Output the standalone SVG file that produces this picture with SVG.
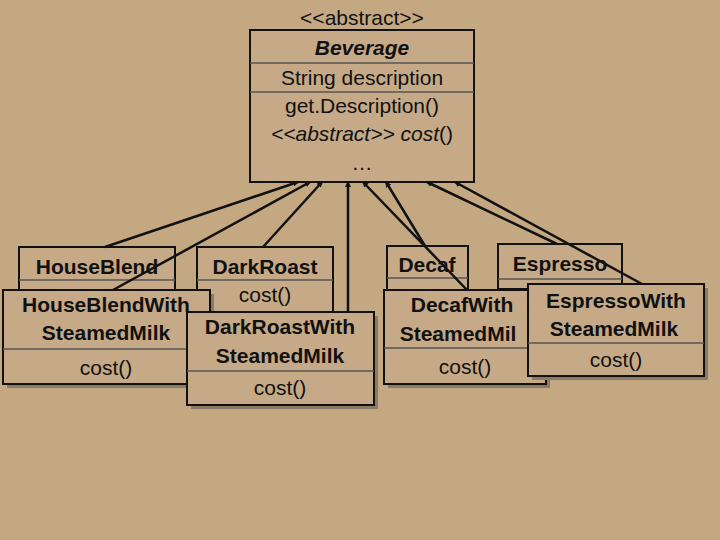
<svg xmlns="http://www.w3.org/2000/svg" width="720" height="540" viewBox="0 0 720 540">
<style>
.b{fill:#c6aa87;stroke:#111;stroke-width:2}
.s{fill:#8a7a66}
.sep{stroke:#555;stroke-width:1.5}
text{font-family:"Liberation Sans",Arial,sans-serif;font-size:21px;fill:#111;text-anchor:middle}
.bd{font-weight:bold}
.c{stroke:#111;stroke-width:2.5;fill:none;marker-end:url(#a)}
</style>
<defs><marker id="a" markerWidth="6" markerHeight="6" refX="5" refY="3" orient="auto" markerUnits="userSpaceOnUse"><path d="M0,0 L6,3 L0,6 Z" fill="#111"/></marker></defs>
<rect width="720" height="540" fill="#c4a882"/>
<g id="beverage">
<text x="362" y="25">&lt;&lt;abstract&gt;&gt;</text>
<rect class="b" x="250" y="30" width="224" height="152"/>
<line class="sep" x1="250" y1="63" x2="474" y2="63"/>
<line class="sep" x1="250" y1="92" x2="474" y2="92"/>
<text x="362" y="55" class="bd" font-style="italic">Beverage</text>
<text x="362" y="85">String description</text>
<text x="362" y="113">get.Description()</text>
<text x="362" y="141"><tspan font-style="italic">&lt;&lt;abstract&gt;&gt; cost</tspan>()</text>
<text x="362" y="170">…</text>
</g>
<g id="houseblend">
<rect class="b" x="19" y="247" width="156" height="50"/>
<line class="sep" x1="19" y1="280" x2="175" y2="280"/>
<text x="97" y="274" class="bd">HouseBlend</text>
</g>
<g id="darkroast">
<rect class="b" x="197" y="247" width="136" height="70"/>
<line class="sep" x1="197" y1="280" x2="333" y2="280"/>
<text x="265" y="274" class="bd">DarkRoast</text>
<text x="265" y="302">cost()</text>
</g>
<g id="decaf">
<rect class="b" x="387" y="246" width="81" height="50"/>
<line class="sep" x1="387" y1="278" x2="468" y2="278"/>
<text x="427" y="272" class="bd">Decaf</text>
</g>
<g id="espresso">
<rect class="b" x="498" y="244" width="124" height="45"/>
<line class="sep" x1="498" y1="279" x2="622" y2="279"/>
<text x="560" y="271" class="bd">Espresso</text>
</g>
<g id="houseblendwith">
<rect class="s" x="7" y="294" width="207" height="94"/>
<rect class="b" x="3" y="290" width="207" height="94"/>
<line class="sep" x1="3" y1="349" x2="210" y2="349"/>
<text x="106" y="312" class="bd">HouseBlendWith</text>
<text x="106" y="340" class="bd">SteamedMilk</text>
<text x="106" y="375">cost()</text>
</g>
<g id="darkroastwith">
<rect class="s" x="191" y="316" width="187" height="93"/>
<rect class="b" x="187" y="312" width="187" height="93"/>
<line class="sep" x1="187" y1="371" x2="374" y2="371"/>
<text x="280" y="334" class="bd">DarkRoastWith</text>
<text x="280" y="363" class="bd">SteamedMilk</text>
<text x="280" y="395">cost()</text>
</g>
<g id="decafwith">
<rect class="s" x="388" y="294" width="162" height="94"/>
<rect class="b" x="384" y="290" width="162" height="94"/>
<line class="sep" x1="384" y1="348" x2="546" y2="348"/>
<text x="462" y="312" class="bd">DecafWith</text>
<text x="458" y="341" class="bd">SteamedMil</text>
<text x="465" y="374">cost()</text>
</g>
<g id="espressowith">
<rect class="s" x="532" y="288" width="176" height="92"/>
<rect class="b" x="528" y="284" width="176" height="92"/>
<line class="sep" x1="528" y1="343" x2="704" y2="343"/>
<text x="616" y="308" class="bd">EspressoWith</text>
<text x="614" y="336" class="bd">SteamedMilk</text>
<text x="616" y="367">cost()</text>
</g>
<g id="connectors">
<line class="c" x1="105" y1="247" x2="298" y2="182"/>
<line class="c" x1="113" y1="290" x2="310" y2="182"/>
<line class="c" x1="263" y1="247" x2="322" y2="182"/>
<line class="c" x1="348" y1="312" x2="348" y2="182"/>
<line class="c" x1="467" y1="290" x2="363" y2="182"/>
<line class="c" x1="425" y1="246" x2="386" y2="182"/>
<line class="c" x1="557" y1="244" x2="427" y2="182"/>
<line class="c" x1="642" y1="284" x2="455" y2="182"/>
</g>
</svg>
